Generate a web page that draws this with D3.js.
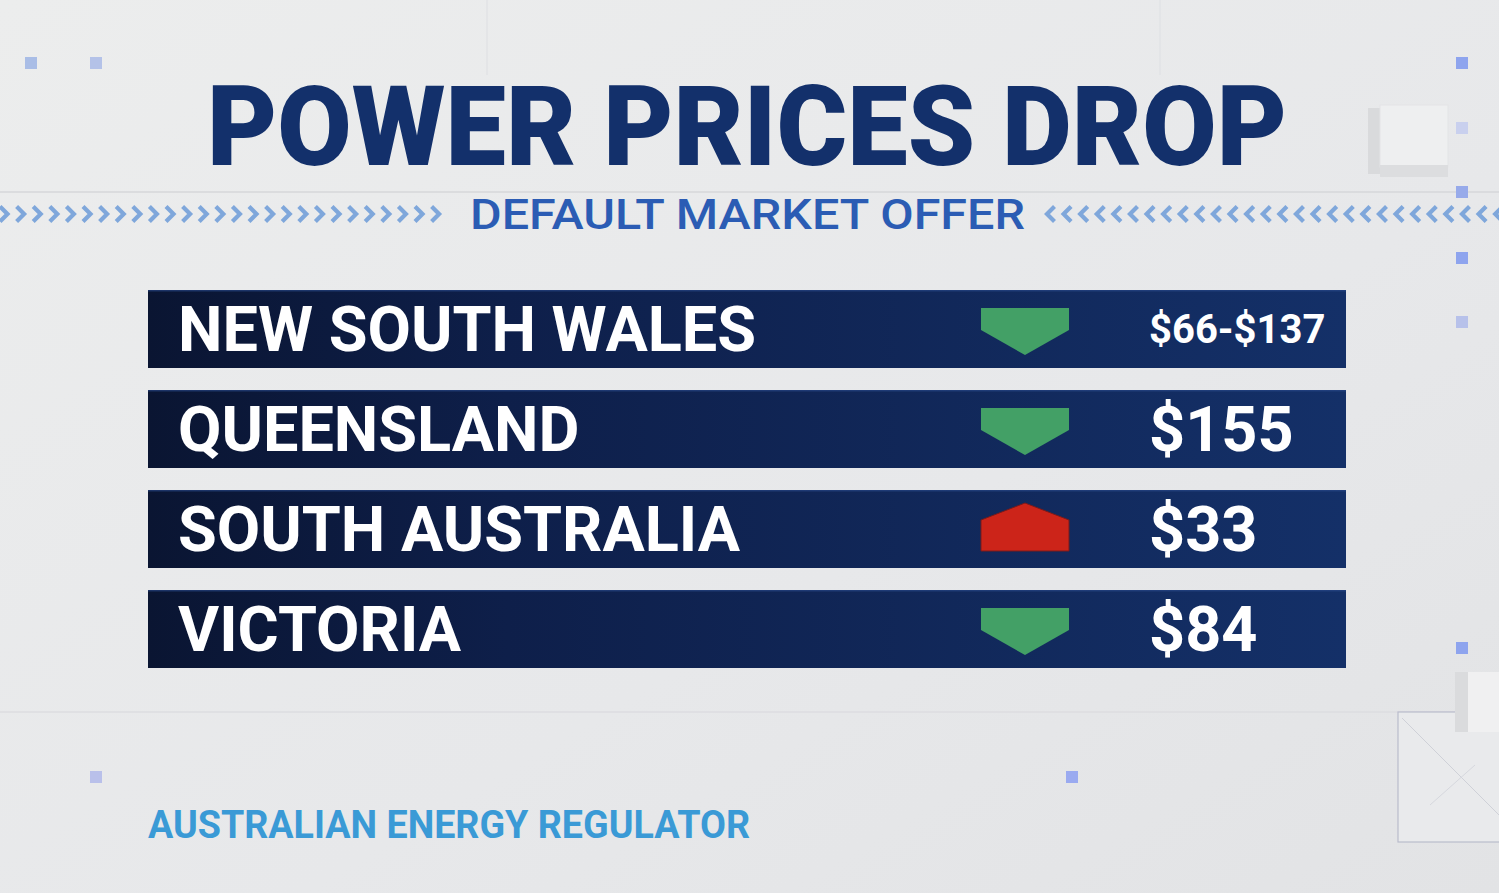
<!DOCTYPE html>
<html><head><meta charset="utf-8">
<script src="https://cdn.jsdelivr.net/npm/d3@7/dist/d3.min.js"></script>
<style>
html,body{margin:0;padding:0;background:#e6e7e9;overflow:hidden}
svg{display:block}
text{font-family:Roboto,"Noto Sans",sans-serif}
</style></head>
<body>
<svg id="c" width="1499" height="893"></svg>
<script>
const title = "POWER PRICES DROP";
const subtitle = "DEFAULT MARKET OFFER";
const source = "AUSTRALIAN ENERGY REGULATOR";
const regions = ["NEW SOUTH WALES", "QUEENSLAND", "SOUTH AUSTRALIA", "VICTORIA"];
const directions = ["down", "down", "up", "down"];
const changeLabels = ["$66-$137", "$155", "$33", "$84"];
const labelSizes = [40, 63, 63, 63];

const W = 1499, H = 893;
const svg = d3.select("#c");
const defs = svg.append("defs");

const bg = defs.append("linearGradient").attr("id","bg").attr("x1",0).attr("y1",0).attr("x2",1).attr("y2",1);
bg.append("stop").attr("offset","0%").attr("stop-color","#eceded");
bg.append("stop").attr("offset","60%").attr("stop-color","#e7e8ea");
bg.append("stop").attr("offset","100%").attr("stop-color","#e2e3e5");
svg.append("rect").attr("width",W).attr("height",H).attr("fill","url(#bg)");

const barG = defs.append("linearGradient").attr("id","bar").attr("x1",0).attr("y1",0).attr("x2",1).attr("y2",0);
barG.append("stop").attr("offset","0%").attr("stop-color","#0a1532");
barG.append("stop").attr("offset","30%").attr("stop-color","#0e1f4a");
barG.append("stop").attr("offset","100%").attr("stop-color","#143068");

const deco = svg.append("g");
deco.append("line").attr("x1",0).attr("x2",W).attr("y1",192).attr("y2",192).attr("stroke","#d6d7da").attr("stroke-width",1.5);
deco.append("line").attr("x1",0).attr("x2",W).attr("y1",712).attr("y2",712).attr("stroke","#dcdde0").attr("stroke-width",1.5);
[487, 1160].forEach(x => deco.append("line").attr("x1",x).attr("x2",x).attr("y1",0).attr("y2",75).attr("stroke","#e0e1e4").attr("stroke-width",1.2));

deco.append("rect").attr("x",1368).attr("y",108).attr("width",20).attr("height",66).attr("fill","#d9dadc");
deco.append("rect").attr("x",1380).attr("y",105).attr("width",68).attr("height",62).attr("fill","#eeeff0").attr("stroke","#e3e4e6");
deco.append("rect").attr("x",1380).attr("y",165).attr("width",68).attr("height",12).attr("fill","#dcdddf");
deco.append("rect").attr("x",1398).attr("y",712).attr("width",110).attr("height",130).attr("fill","#e9eaec").attr("stroke","#b9bccc").attr("stroke-width",1.2);
deco.append("line").attr("x1",1402).attr("y1",718).attr("x2",1499).attr("y2",815).attr("stroke","#cfd1d8");
deco.append("line").attr("x1",1430).attr("y1",805).attr("x2",1475).attr("y2",765).attr("stroke","#d6d8de");
deco.append("rect").attr("x",1455).attr("y",672).attr("width",44).attr("height",60).attr("fill","#dadbdd");
deco.append("rect").attr("x",1468).attr("y",672).attr("width",31).attr("height",60).attr("fill","#f0f0f1");

const squares = [[31,63,"#a9bde6"],[96,63,"#b4c2e8"],[1462,63,"#8ea4ee"],[1462,128,"#c9d0ee"],[1462,192,"#97aaea"],[1462,258,"#8ea4ee"],[1462,322,"#b7c1ea"],[1462,648,"#8ea4ee"],[96,777,"#b9c0ea"],[1072,777,"#9aaaf0"]];
deco.selectAll("rect.sq").data(squares).join("rect").attr("class","sq")
  .attr("x",d=>d[0]-6).attr("y",d=>d[1]-6).attr("width",12).attr("height",12).attr("fill",d=>d[2]);

const chevY = 214;
const leftChev = d3.range(0, 440, 16.6);
const rightChev = d3.range(1047, W + 10, 16.6);
const chev = svg.append("g").attr("fill","none").attr("stroke","#7fa7db").attr("stroke-width",4.2).attr("stroke-linejoin","miter");
chev.selectAll("path.r").data(leftChev).join("path").attr("class","r")
  .attr("d", x => `M${x},${chevY-7.5} L${x+7.5},${chevY} L${x},${chevY+7.5}`);
chev.selectAll("path.l").data(rightChev).join("path").attr("class","l")
  .attr("d", x => `M${x+7.5},${chevY-7.5} L${x},${chevY} L${x+7.5},${chevY+7.5}`);

svg.append("text").attr("x",207).attr("y",165).attr("font-size",112).attr("font-weight",900)
  .attr("fill","#13306b").attr("textLength",1080).attr("lengthAdjust","spacingAndGlyphs").text(title);
svg.append("text").attr("x",470).attr("y",229).attr("font-size",42).attr("font-weight",500)
  .attr("fill","#2b5cb4").attr("textLength",555).attr("lengthAdjust","spacingAndGlyphs").text(subtitle);

// rows: band height 78, step 100
const y = d3.scaleBand().domain(regions).range([290, 668]).paddingInner(0.22).paddingOuter(0);
const x = d3.scaleLinear().domain([0, 1]).range([148, 1346]);
const bh = y.bandwidth();

const rows = svg.append("g").selectAll("g").data(regions).join("g")
  .attr("transform", d => `translate(0,${y(d)})`);

rows.append("rect").attr("x", x(0)).attr("width", x(1) - x(0)).attr("height", bh)
  .attr("fill","url(#bar)");
rows.append("rect").attr("x", x(0)).attr("width", x(1) - x(0)).attr("height", 1.5).attr("fill","#2a4a8a").attr("opacity",0.6);

rows.append("text").attr("x", 178).attr("y", bh/2 + 0.355*63).attr("font-size",63).attr("font-weight",700)
  .attr("fill","#ffffff").text(d => d);

const aw = 88;
rows.append("path")
  .attr("d", (d,i) => {
    const cx = 981, c = bh/2;
    if (directions[i] === "down") {
      const t = c - 21, s = c + 1, b = c + 26;
      return `M${cx},${t} L${cx+aw},${t} L${cx+aw},${s} L${cx+aw/2},${b} L${cx},${s} Z`;
    } else {
      const tp = c - 26, s = c - 9, b = c + 22;
      return `M${cx},${b} L${cx+aw},${b} L${cx+aw},${s} L${cx+aw/2},${tp} L${cx},${s} Z`;
    }
  })
  .attr("fill", (d,i) => directions[i] === "down" ? "#43a066" : "#cc2419")
  .attr("stroke", (d,i) => directions[i] === "down" ? "none" : "#7a1b1b").attr("stroke-width",1);

rows.append("text").attr("x", 1149).attr("y", (d,i) => bh/2 + 0.355*labelSizes[i])
  .attr("font-size", (d,i) => labelSizes[i]).attr("font-weight",700).attr("fill","#ffffff")
  .text((d,i) => changeLabels[i]);

svg.append("text").attr("x",148).attr("y",838).attr("font-size",38).attr("font-weight",700)
  .attr("fill","#3a9ad6").attr("textLength",602).attr("lengthAdjust","spacingAndGlyphs").text(source);
</script>
</body></html>
